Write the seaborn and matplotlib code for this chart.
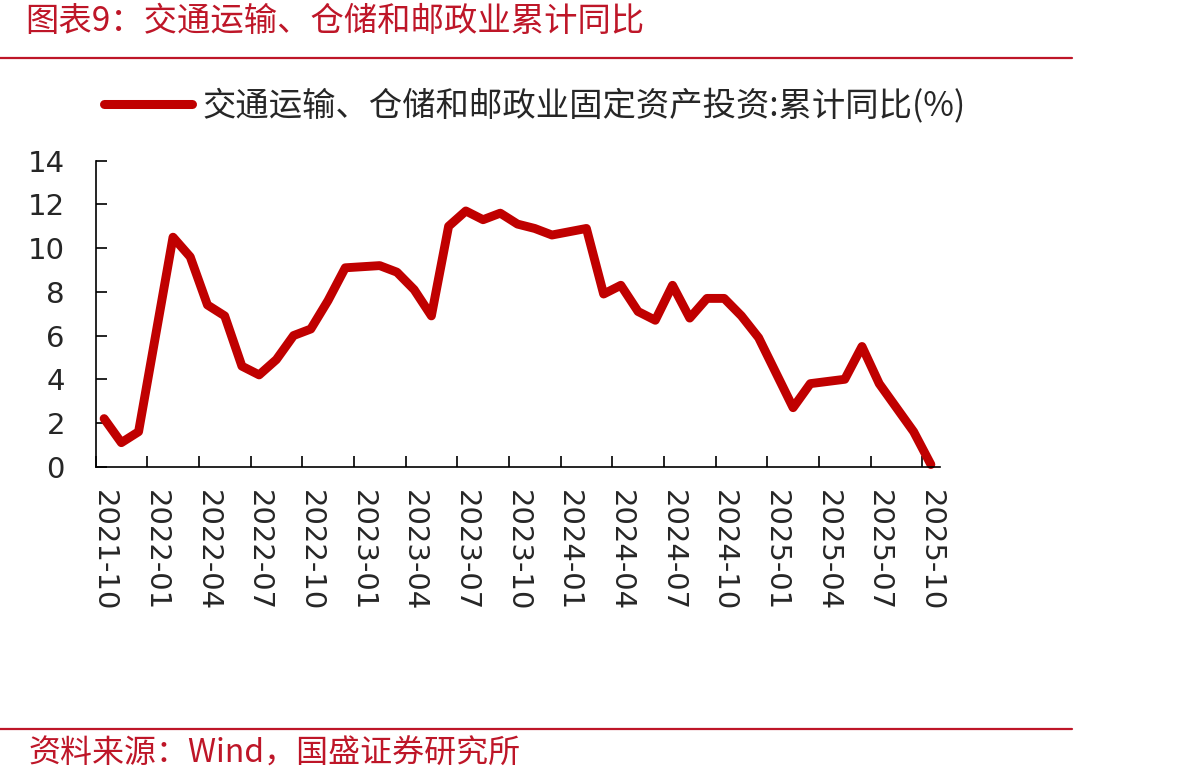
import matplotlib
matplotlib.use("Agg")
import matplotlib.pyplot as plt
from matplotlib.lines import Line2D
from matplotlib.ticker import FixedLocator
import seaborn as sns
import pandas as pd

# ---- data ----
months = ["2021-10", "2021-11", "2021-12",
          "2022-02", "2022-03", "2022-04", "2022-05", "2022-06", "2022-07",
          "2022-08", "2022-09", "2022-10", "2022-11", "2022-12",
          "2023-02", "2023-03", "2023-04", "2023-05", "2023-06", "2023-07",
          "2023-08", "2023-09", "2023-10", "2023-11", "2023-12",
          "2024-02", "2024-03", "2024-04", "2024-05", "2024-06", "2024-07",
          "2024-08", "2024-09", "2024-10", "2024-11", "2024-12",
          "2025-02", "2025-03", "2025-04", "2025-05", "2025-06", "2025-07",
          "2025-08", "2025-09", "2025-10"]
values = [2.2, 1.1, 1.6,
          10.5, 9.6, 7.4, 6.9, 4.6, 4.2,
          4.9, 6.0, 6.3, 7.6, 9.1,
          9.2, 8.9, 8.1, 6.9, 11.0, 11.7,
          11.3, 11.6, 11.1, 10.9, 10.6,
          10.9, 7.9, 8.3, 7.1, 6.7, 8.3,
          6.8, 7.7, 7.7, 6.9, 5.9,
          2.7, 3.8, 3.9, 4.0, 5.5, 3.8,
          2.7, 1.6, 0.1]
tick_labels = ["2021-10", "2022-01", "2022-04", "2022-07", "2022-10",
               "2023-01", "2023-04", "2023-07", "2023-10", "2024-01",
               "2024-04", "2024-07", "2024-10", "2025-01", "2025-04",
               "2025-07", "2025-10"]
yticks = [0, 2, 4, 6, 8, 10, 12, 14]

series_name = "交通运输、仓储和邮政业固定资产投资:累计同比(%)"
title_text = "图表9：交通运输、仓储和邮政业累计同比"
source_text = "资料来源：Wind，国盛证券研究所"

RED_LINE = "#C00000"
RED_TXT = "#BE1628"


def month_index(s):
    y, m = s.split("-")
    return (int(y) - 2021) * 12 + int(m) - 10


df = pd.DataFrame({"idx": [month_index(m) for m in months], "val": values})
tick_pos = [month_index(t) for t in tick_labels]

sns.set_style("white")
plt.rcParams["font.family"] = ["Noto Sans CJK SC", "DejaVu Sans"]

W, H = 1192, 783
fig = plt.figure(figsize=(W / 100, H / 100), dpi=100)
ax = fig.add_axes([95.5 / W, 1 - 466.7 / H, (939.5 - 95.5) / W, (466.7 - 160.7) / H])

sns.lineplot(data=df, x="idx", y="val", ax=ax, color=RED_LINE, linewidth=6.4,
             label=series_name, solid_capstyle="round", solid_joinstyle="round",
             clip_on=False)

ax.set_xlim(-0.5, 48.5)
ax.set_ylim(0, 14)
ax.set_xlabel("")
ax.set_ylabel("")

# x: labels at mid-month, tick marks at month boundaries
ax.set_xticks(tick_pos)
ax.set_xticklabels(tick_labels, rotation=-90, fontsize=21, family="DejaVu Sans",
                   va="top", ha="center")
ax.tick_params(axis="x", which="major", length=0, pad=17)
ax.xaxis.set_minor_locator(FixedLocator([p - 0.5 for p in tick_pos]))
ax.tick_params(axis="x", which="minor", direction="in", length=7.7, width=1.2,
               color="black", bottom=True)

ax.set_yticks(yticks)
ax.set_yticklabels([str(v) for v in yticks], fontsize=21, family="DejaVu Sans")
ax.tick_params(axis="y", direction="in", length=8, width=1.2, color="black",
               pad=22, left=True)

for side in ["top", "right"]:
    ax.spines[side].set_visible(False)
for side in ["left", "bottom"]:
    ax.spines[side].set_color("black")
    ax.spines[side].set_linewidth(1.2)

leg = ax.legend(loc="center left", bbox_to_anchor=(104 / W, 1 - 106 / H),
                bbox_transform=fig.transFigure, frameon=False, fontsize=24,
                handlelength=2.65, handletextpad=0.3, borderpad=0,
                borderaxespad=0)
for h in leg.get_lines():
    h.set_linewidth(6.5)
    h.set_solid_capstyle("round")

# header / footer
fig.text(25 / W, 1 - 22 / H, title_text, color=RED_TXT, fontsize=24,
         va="center", ha="left", style="italic")
fig.add_artist(Line2D([0, 1072 / W], [1 - 57.5 / H] * 2, transform=fig.transFigure,
                      color=RED_TXT, linewidth=1.6))
fig.add_artist(Line2D([0, 1072 / W], [1 - 729 / H] * 2, transform=fig.transFigure,
                      color=RED_TXT, linewidth=1.6))
fig.text(28 / W, 1 - 754 / H, source_text, color=RED_TXT, fontsize=23,
         va="center", ha="left", style="italic")

fig.savefig("out.png", dpi=100)
